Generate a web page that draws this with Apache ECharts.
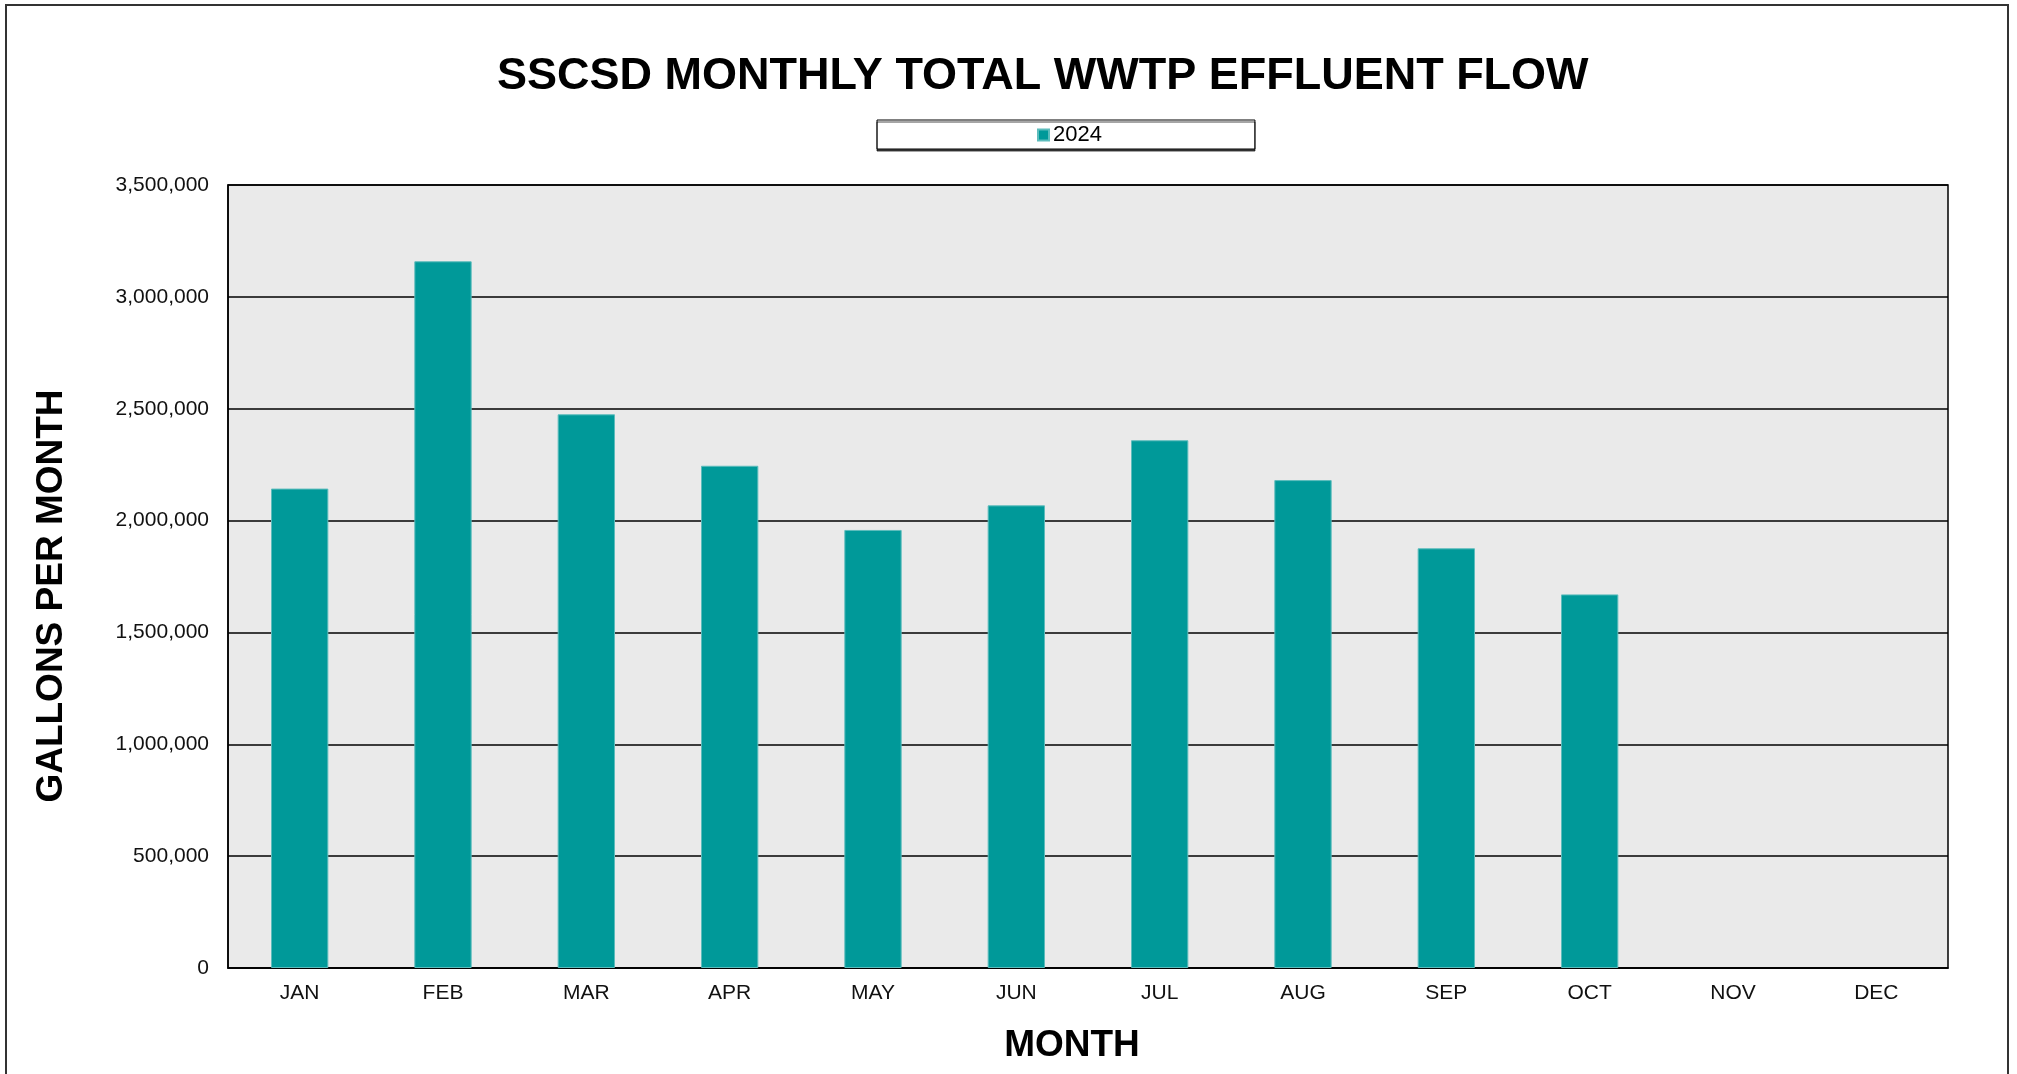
<!DOCTYPE html>
<html>
<head>
<meta charset="utf-8">
<title>SSCSD Monthly Total WWTP Effluent Flow</title>
<script src="https://cdn.jsdelivr.net/npm/echarts@6/dist/echarts.min.js"></script>
<style>
  html, body { margin: 0; padding: 0; background: #fff; }
  #flowChart { width: 2017px; height: 1074px; }
</style>
</head>
<body>
<div id="flowChart"></div>
<script>
// chart data
const months = ['JAN', 'FEB', 'MAR', 'APR', 'MAY', 'JUN', 'JUL', 'AUG', 'SEP', 'OCT', 'NOV', 'DEC']
const seriesName = '2024'
const flow2024 = [2143000, 3159000, 2475000, 2245000, 1958000, 2068000, 2359000, 2181000, 1876000, 1670000, null, null]
const yTicks = [0, 500000, 1000000, 1500000, 2000000, 2500000, 3000000, 3500000]

const fontFam = '"Liberation Sans", Arial, sans-serif'

const flowChart = echarts.init(document.getElementById('flowChart'))

let options = {
    backgroundColor: '#ffffff',
    animation: false,
    title: {
        text: 'SSCSD MONTHLY TOTAL WWTP EFFLUENT FLOW',
        left: 497,
        top: 54,
        padding: 0,
        textStyle: {
            fontFamily: fontFam,
            fontSize: 45,
            fontWeight: 'bold',
            color: '#000'
        }
    },
    legend: {
        data: [seriesName],
        left: 877,
        top: 120,
        padding: [4, 153, 3, 160],
        backgroundColor: '#fff',
        borderColor: '#000',
        borderWidth: 1,
        shadowColor: 'rgba(0,0,0,0.7)',
        shadowOffsetY: 2,
        shadowBlur: 0,
        icon: 'rect',
        itemWidth: 11,
        itemHeight: 11,
        itemGap: 6,
        textStyle: {
            fontFamily: fontFam,
            fontSize: 22,
            color: '#000',
            padding: [0, 0, 0, -1]
        }
    },
    grid: {
        left: 228,
        top: 185,
        right: 69,
        bottom: 106,
        show: true,
        backgroundColor: '#eaeaea',
        borderColor: '#000',
        borderWidth: 1.5
    },
    xAxis: {
        type: 'category',
        data: months,
        axisLine: { lineStyle: { color: '#000', width: 1.5 } },
        axisTick: { show: false },
        axisLabel: {
            fontFamily: fontFam,
            fontSize: 21,
            color: '#111',
            margin: 15
        }
    },
    yAxis: {
        type: 'value',
        min: yTicks[0],
        max: yTicks[yTicks.length - 1],
        interval: yTicks[1] - yTicks[0],
        axisLine: { show: true, lineStyle: { color: '#000', width: 1.5 } },
        axisTick: { show: false },
        splitLine: { lineStyle: { color: '#000', width: 1.5 } },
        axisLabel: {
            fontFamily: fontFam,
            fontSize: 21,
            color: '#111',
            margin: 19,
            formatter: v => v.toLocaleString('en-US')
        }
    },
    graphic: [
        {
            type: 'rect',
            silent: true,
            shape: { x: 6, y: 5, width: 2002, height: 1100 },
            style: { fill: null, stroke: '#333', lineWidth: 2 }
        },
        {
            type: 'text',
            silent: true,
            x: 52,
            y: 596,
            rotation: Math.PI / 2,
            style: {
                text: 'GALLONS PER MONTH',
                fontFamily: fontFam,
                fontSize: 37,
                fontWeight: 'bold',
                fill: '#000',
                textAlign: 'center',
                textVerticalAlign: 'middle'
            }
        },
        {
            type: 'text',
            silent: true,
            x: 1072,
            y: 1046,
            style: {
                text: 'MONTH',
                fontFamily: fontFam,
                fontSize: 37,
                fontWeight: 'bold',
                fill: '#000',
                textAlign: 'center',
                textVerticalAlign: 'middle'
            }
        }
    ],
    series: [
        {
            name: seriesName,
            type: 'bar',
            data: flow2024,
            barWidth: '40%',
            itemStyle: {
                color: '#009999',
                borderColor: '#5cbcbc',
                borderWidth: 1
            }
        }
    ]
}
flowChart.setOption(options, true)
</script>
</body>
</html>
